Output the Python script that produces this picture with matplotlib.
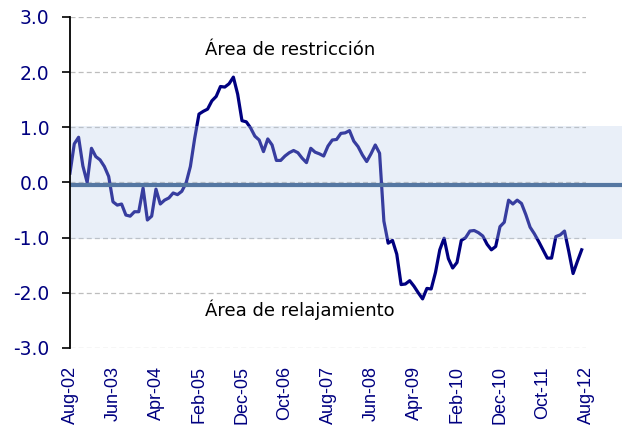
import matplotlib
matplotlib.use("Agg")
import matplotlib.pyplot as plt
from matplotlib.patches import Rectangle

# indice mensual, ago-02 a jul-12
valores = [
    0.17, 0.70, 0.82, 0.30, 0.00, 0.62, 0.47, 0.41, 0.29, 0.11,
    -0.35, -0.41, -0.39, -0.59, -0.61, -0.53, -0.53, -0.10, -0.68, -0.61,
    -0.12, -0.39, -0.32, -0.28, -0.19, -0.22, -0.16, -0.01, 0.29, 0.80,
    1.24, 1.29, 1.33, 1.48, 1.56, 1.74, 1.73, 1.79, 1.91, 1.60,
    1.12, 1.10, 0.99, 0.84, 0.77, 0.56, 0.79, 0.68, 0.40, 0.40,
    0.48, 0.54, 0.58, 0.54, 0.44, 0.36, 0.62, 0.55, 0.52, 0.48,
    0.66, 0.77, 0.78, 0.89, 0.90, 0.94, 0.75, 0.65, 0.50, 0.38,
    0.52, 0.68, 0.53, -0.70, -1.10, -1.05, -1.30, -1.85, -1.84, -1.78,
    -1.88, -2.00, -2.11, -1.92, -1.93, -1.63, -1.22, -1.01, -1.38, -1.55,
    -1.45, -1.05, -1.00, -0.88, -0.87, -0.91, -0.97, -1.12, -1.22, -1.16,
    -0.80, -0.72, -0.32, -0.39, -0.32, -0.38, -0.58, -0.81, -0.93, -1.07,
    -1.22, -1.37, -1.37, -0.98, -0.95, -0.88, -1.25, -1.65, -1.43, -1.22,
]
etiquetas = ["Aug-02", "Jun-03", "Apr-04", "Feb-05", "Dec-05", "Oct-06", "Aug-07",
             "Jun-08", "Apr-09", "Feb-10", "Dec-10", "Oct-11", "Aug-12"]
yticks = [3.0, 2.0, 1.0, 0.0, -1.0, -2.0, -3.0]

BANDA = 1.03      # banda neutral +/-
NIVEL_CERO = -0.05
AZUL = "#000080"

fig = plt.figure(figsize=(6.22, 4.26), dpi=100)
ax = fig.add_axes([0.1125, 0.1831, 0.8296, 0.777])

x = list(range(len(valores)))
ax.plot(x, valores, color=AZUL, lw=2.3, solid_joinstyle="round", zorder=3)

ax.set_xlim(0, 120)
ax.set_ylim(-3, 3)

# banda sombreada, se sale del area del grafico hacia la derecha
ancho = 120 * (622 - 70) / (586 - 70)
banda = Rectangle((0, -BANDA), ancho, 2 * BANDA, facecolor=(185/255, 205/255, 232/255),
                  alpha=0.3, edgecolor="none", clip_on=False, zorder=4)
ax.add_patch(banda)
ax.plot([0, ancho], [NIVEL_CERO, NIVEL_CERO], color="#5577A2", lw=3, clip_on=False,
        solid_capstyle="butt", zorder=5)

for y in yticks:
    ax.axhline(y, color="#BDBDBD", lw=0.9, ls=(0, (4, 2.5)), zorder=1)

ax.set_yticks(yticks)
ax.set_yticklabels([f"{v:.1f}" for v in yticks], color=AZUL, fontsize=13.5)
ax.set_xticks(range(0, 121, 10))
ax.set_xticklabels(etiquetas, rotation=90, color=AZUL, fontsize=13,
                   family=["Liberation Sans", "DejaVu Sans"])
ax.tick_params(axis="x", length=0, pad=13)
ax.tick_params(axis="y", direction="out", length=6, width=1.2, pad=9)

for lado in ["top", "right", "bottom"]:
    ax.spines[lado].set_visible(False)
ax.spines["left"].set_linewidth(1.3)
ax.spines["left"].set_zorder(6)

ax.text(31.4, 2.4, "Área de restricción", fontsize=13, color="black", va="center")
ax.text(31.4, -2.3, "Área de relajamiento", fontsize=13, color="black", va="center")

fig.savefig("out.png", dpi=100)
